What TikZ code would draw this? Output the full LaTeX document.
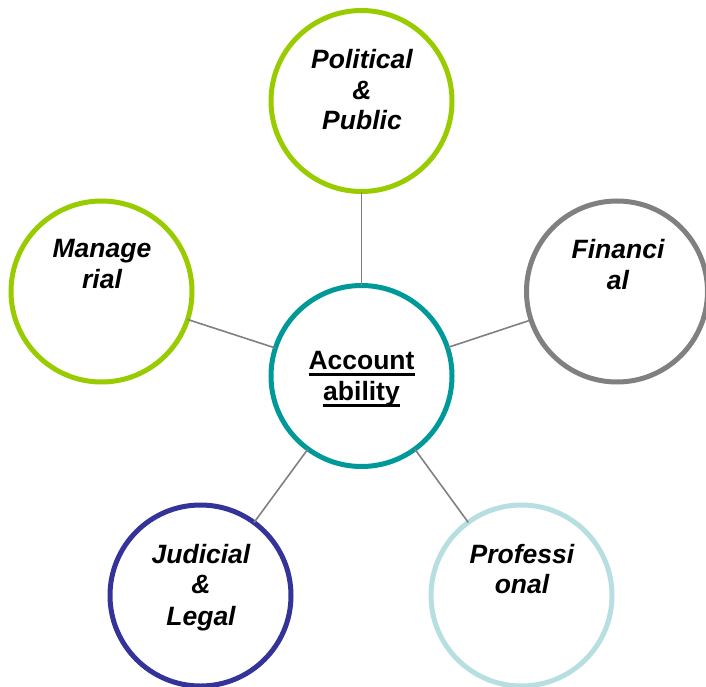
\documentclass[tikz,border=0pt]{standalone}
\usepackage{fontspec}
\setmainfont{Liberation Sans}
\newcommand{\myul}[1]{\setbox0\hbox{#1}\rlap{\rule[-7pt]{\wd0}{2.6pt}}\box0}
\begin{document}
\begin{tikzpicture}[x=1pt,y=-1pt,
  ring/.style={circle,draw=#1,line width=5pt,minimum size=181pt,inner sep=0pt,outer sep=0pt,fill=white},
  lbl/.style={anchor=base,inner sep=0pt,font=\fontsize{26.5}{30}\selectfont\bfseries\itshape},
  clbl/.style={anchor=base,inner sep=0pt,font=\fontsize{26.5}{30}\selectfont\bfseries},
  link/.style={draw=linkgray,line width=1.6pt}]
\definecolor{cgreen}{HTML}{99CC00}
\definecolor{cgray}{HTML}{808080}
\definecolor{cnavy}{HTML}{333399}
\definecolor{clblue}{HTML}{B7DFE2}
\definecolor{cteal}{HTML}{009999}
\definecolor{linkgray}{HTML}{808080}
\useasboundingbox (0,0) rectangle (706,687);
% circles
\node[ring=cteal] (acc) at (361.5,376) {};
\node[ring=cgreen] (pol) at (361.5,101) {};
\node[ring=cgreen] (man) at (101.5,291.5) {};
\node[ring=cgray] (fin) at (617,291.5) {};
\node[ring=cnavy] (jud) at (200.5,595.5) {};
\node[ring=clblue] (pro) at (521.5,595.5) {};
% connectors
\draw[link] (acc) -- (pol);
\draw[link] (acc) -- (man);
\draw[link] (acc) -- (fin);
\draw[link] (acc) -- (jud);
\draw[link] (acc) -- (pro);
% labels
\node[clbl] (acc1) at (361.5,369) {\myul{Account}};
\node[clbl] (acc2) at (361.5,400) {\myul{ability}};
\node[lbl] (pol1) at (362,69) {Political};
\node[lbl] (pol2) at (362,100) {\&};
\node[lbl] (pol3) at (362,130) {Public};
\node[lbl] (man1) at (102,257) {Manage};
\node[lbl] (man2) at (102,288) {rial};
\node[lbl] (fin1) at (618,258) {Financi};
\node[lbl] (fin2) at (618,289) {al};
\node[lbl] (jud1) at (201,563) {Judicial};
\node[lbl] (jud2) at (201,593) {\&};
\node[lbl] (jud3) at (201,625) {Legal};
\node[lbl] (pro1) at (522,563) {Professi};
\node[lbl] (pro2) at (522,593) {onal};
\end{tikzpicture}
\end{document}
